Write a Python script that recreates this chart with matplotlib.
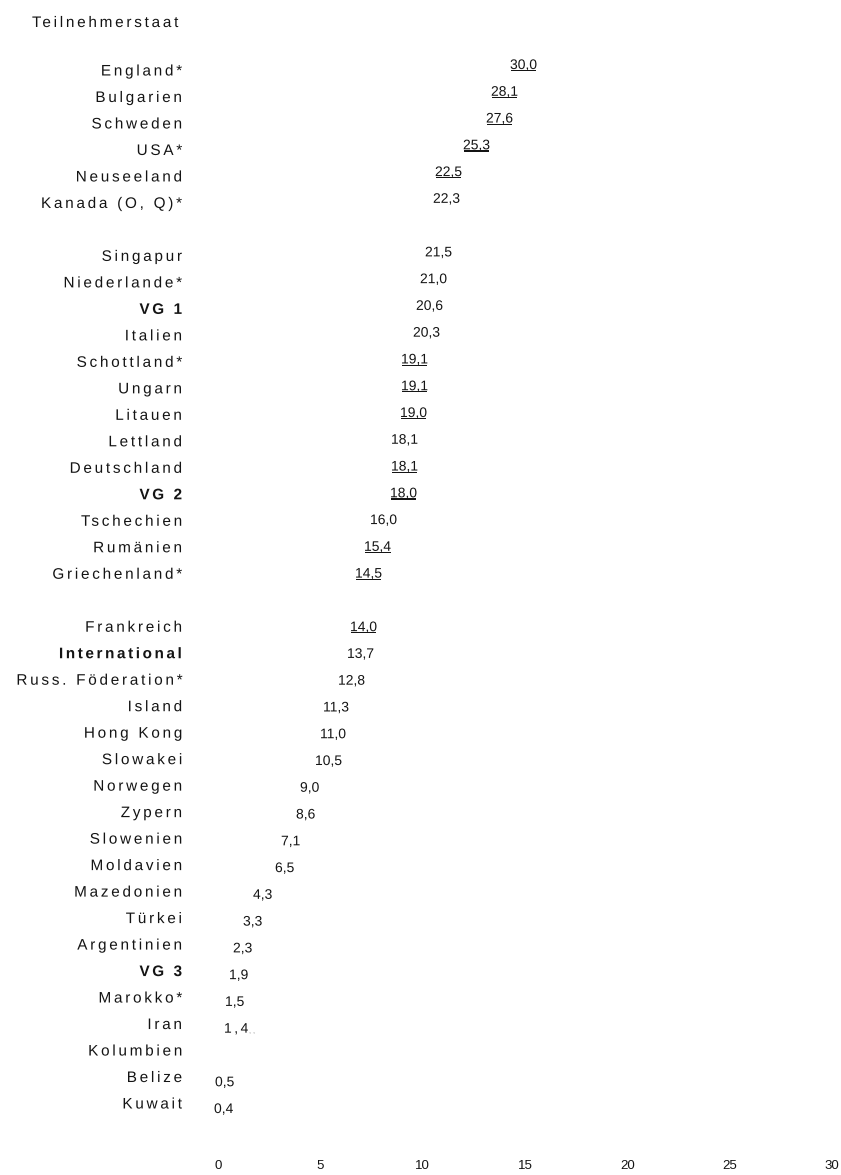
import numpy as np
import matplotlib
matplotlib.use("Agg")
import matplotlib.pyplot as plt
from matplotlib.patheffects import AbstractPathEffect
from matplotlib.path import Path
from matplotlib.transforms import blended_transform_factory

plt.rcParams['font.family'] = ['Liberation Sans', 'DejaVu Sans']

# ---------------- data ----------------
header = "Teilnehmerstaat"

countries_g1 = ["England*", "Bulgarien", "Schweden", "USA*", "Neuseeland", "Kanada (O, Q)*"]
values_g1 = [30.0, 28.1, 27.6, 25.3, 22.5, 22.3]
underlined_g1 = [True, True, True, True, True, False]

countries_g2 = ["Singapur", "Niederlande*", "VG 1", "Italien", "Schottland*", "Ungarn",
                "Litauen", "Lettland", "Deutschland", "VG 2", "Tschechien", "Rumänien",
                "Griechenland*"]
values_g2 = [21.5, 21.0, 20.6, 20.3, 19.1, 19.1, 19.0, 18.1, 18.1, 18.0, 16.0, 15.4, 14.5]
underlined_g2 = [False, False, False, False, True, True, True, False, True, True, False, True, True]

countries_g3 = ["Frankreich", "International", "Russ. Föderation*", "Island", "Hong Kong",
                "Slowakei", "Norwegen", "Zypern", "Slowenien", "Moldavien", "Mazedonien",
                "Türkei", "Argentinien", "VG 3", "Marokko*", "Iran", "Kolumbien", "Belize",
                "Kuwait"]
values_g3 = [14.0, 13.7, 12.8, 11.3, 11.0, 10.5, 9.0, 8.6, 7.1, 6.5, 4.3, 3.3, 2.3, 1.9,
             1.5, 1.4, np.nan, 0.5, 0.4]
underlined_g3 = [True] + [False] * 18

aggregates = {"VG 1", "VG 2", "VG 3", "International"}
x_ticks = [0, 5, 10, 15, 20, 25, 30]
x_tick_labels = ["0", "5", "10", "15", "20", "25", "30"]

# --------------- helper: letter spacing / underline path effect ---------------
class Tracked(AbstractPathEffect):
    """Draws text with extra letter spacing (in 1/100 em) and optional underline."""
    def __init__(self, spacing=0.0, anchor="left", underline=False):
        super().__init__()
        self.spacing = spacing
        self.anchor = anchor
        self.underline = underline

    def draw_path(self, renderer, gc, tpath, affine, rgbFace=None):
        codes = tpath.codes
        if codes is None or len(codes) == 0:
            renderer.draw_path(gc, tpath, affine, rgbFace)
            return
        verts = np.array(tpath.vertices, dtype=float)
        codes = np.asarray(codes)
        valid = (codes != Path.CLOSEPOLY) & (codes != Path.STOP)
        starts = list(np.flatnonzero(codes == Path.MOVETO)) + [len(codes)]
        contours = []
        for s, e in zip(starts[:-1], starts[1:]):
            m = valid[s:e]
            xs = verts[s:e][m, 0]
            if xs.size:
                contours.append([xs.min(), xs.max(), s, e])
        contours.sort(key=lambda c: c[0])
        clusters = []
        for c in contours:
            cx = 0.5 * (c[0] + c[1])
            if clusters and clusters[-1][0] <= cx <= clusters[-1][1]:
                clusters[-1][1] = max(clusters[-1][1], c[1])
                clusters[-1][2].append((c[2], c[3]))
            else:
                clusters.append([c[0], c[1], [(c[2], c[3])]])
        new = verts.copy()
        shift = 0.0
        prev_xmax = None
        for k, cl in enumerate(clusters):
            if k > 0:
                shift += self.spacing
                if cl[0] - prev_xmax > 24:
                    shift += self.spacing
            prev_xmax = cl[1]
            for s, e in cl[2]:
                new[s:e, 0] += shift
        if self.anchor == "right":
            new[:, 0] -= shift
        elif self.anchor == "center":
            new[:, 0] -= shift / 2
        renderer.draw_path(gc, Path(new, codes), affine, rgbFace)
        if self.underline and valid.any():
            x0, x1 = new[valid, 0].min(), new[valid, 0].max()
            y0, y1 = -16.0, -8.0
            rect = Path([(x0, y0), (x1, y0), (x1, y1), (x0, y1), (x0, y0)],
                        [Path.MOVETO, Path.LINETO, Path.LINETO, Path.LINETO, Path.CLOSEPOLY])
            renderer.draw_path(gc, rect, affine, rgbFace)


# ---------------- layout ----------------
W, H = 841, 1175
fig = plt.figure(figsize=(W / 100, H / 100), dpi=100)
fig.patch.set_facecolor("white")


def rect_px(left, top, right, bottom):
    return [left / W, 1 - bottom / H, (right - left) / W, (bottom - top) / H]


groups = [(countries_g1, values_g1, underlined_g1),
          (countries_g2, values_g2, underlined_g2),
          (countries_g3, values_g3, underlined_g3)]
names, vals, unders, rows = [], [], [], []
r = 0
for gi, (c, v, u) in enumerate(groups):
    if gi > 0:
        r += 1  # blank separator row
    for ci, vi, ui in zip(c, v, u):
        names.append(ci)
        vals.append(vi)
        unders.append(ui)
        rows.append(r)
        r += 1
nrows = r

TXT = "#141414"

# value axis (invisible bars, labels at bar ends)
v_top, v_bot = 69.0, 1113.0
vs = (v_bot - v_top) / (nrows - 1)
ax = fig.add_axes(rect_px(210, v_top - vs / 2, 810, v_bot + vs / 2))
ax.set_xlim(0, 60)
ax.set_ylim(nrows - 0.5, -0.5)
ax.axis("off")
vals_arr = np.array(vals, dtype=float)
ok = ~np.isnan(vals_arr)
ax.barh(np.array(rows)[ok], vals_arr[ok], height=0.6, color="white", zorder=0)
for name, v, u, row in zip(names, vals, unders, rows):
    if np.isnan(v):
        continue
    lab = f"{v:.1f}".replace(".", ",")
    sp = 18 if name == "Iran" else 0
    t = ax.text(v, row, lab, ha="left", va="baseline", fontsize=10, color=TXT)
    t.set_path_effects([Tracked(spacing=sp, anchor="left", underline=u)])
    if name == "Iran":
        ax.annotate(", ,", (v, row), xytext=(25, 0), textcoords="offset pixels",
                    ha="left", va="baseline", fontsize=5, color="#8a8a8a")

# country label axis
c_top, c_bot = 75.5, 1108.5
cs = (c_bot - c_top) / (nrows - 1)
axl = fig.add_axes(rect_px(0, c_top - cs / 2, 182, c_bot + cs / 2))
axl.set_xlim(0, 1)
axl.set_ylim(nrows - 0.5, -0.5)
axl.axis("off")
trans = blended_transform_factory(axl.transAxes, axl.transData)
for name, row in zip(names, rows):
    bold = name in aggregates
    t = axl.text(1.0, row, name, transform=trans, ha="right", va="baseline",
                 fontsize=11, fontweight="bold" if bold else "normal", color=TXT)
    t.set_path_effects([Tracked(spacing=17 if bold else 18, anchor="right")])

# header
th = fig.text(32 / W, 1 - 27 / H, header, ha="left", va="baseline", fontsize=11,
              color=TXT)
th.set_path_effects([Tracked(spacing=18, anchor="left")])

# tick axis
axt = fig.add_axes(rect_px(218, 1159, 832, 1160))
axt.set_xlim(0, 30)
axt.set_xticks(x_ticks, x_tick_labels)
axt.set_yticks([])
for s in axt.spines.values():
    s.set_visible(False)
axt.tick_params(axis="x", length=0, pad=0, labelsize=9.5, labelcolor=TXT)
axt.patch.set_alpha(0)

fig.savefig("out.png", dpi=100, facecolor="white")
